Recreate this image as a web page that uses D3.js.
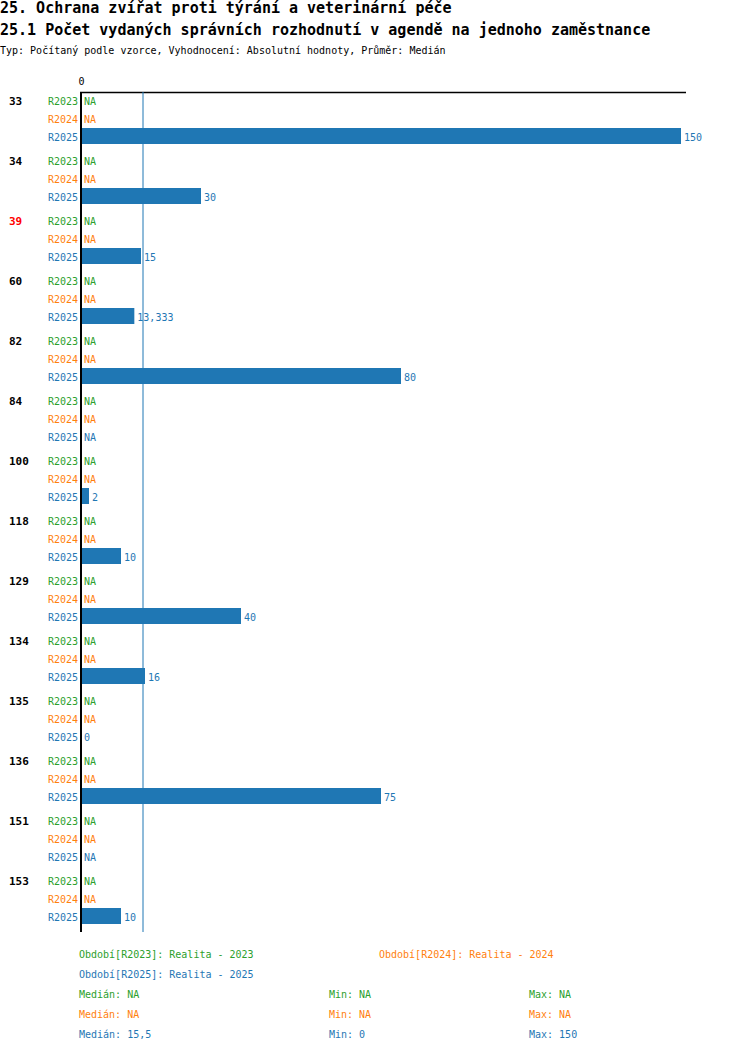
<!DOCTYPE html>
<html>
<head>
<meta charset="utf-8">
<script src="https://cdn.jsdelivr.net/npm/d3@7"></script>
<style>
  body { margin: 0; background: #fff; }
  svg { display: block; font-family: "DejaVu Sans Mono", "Liberation Mono", monospace; }
</style>
</head>
<body>
<svg id="chart" width="750" height="1052"></svg>
<script>
const groups = ["33", "34", "39", "60", "82", "84", "100", "118", "129", "134", "135", "136", "151", "153"];
const highlighted = ["39"];
const periods = ["R2023", "R2024", "R2025"];
const valuesR2023 = [null, null, null, null, null, null, null, null, null, null, null, null, null, null];
const valuesR2024 = [null, null, null, null, null, null, null, null, null, null, null, null, null, null];
const valuesR2025 = [150, 30, 15, 13.333, 80, null, 2, 10, 40, 16, 0, 75, null, 10];
const axisTicks = [0];
const median = 15.5;
const periodNames = ["Období[R2023]: Realita - 2023", "Období[R2024]: Realita - 2024", "Období[R2025]: Realita - 2025"];
const statsRows = [
  ["Medián: NA", "Min: NA", "Max: NA"],
  ["Medián: NA", "Min: NA", "Max: NA"],
  ["Medián: 15,5", "Min: 0", "Max: 150"]
];

const W = 750, H = 1052;
const m = { top: 92, left: 81, right: 69, bottom: 120 };
const svg = d3.select("#chart");
const color = d3.scaleOrdinal().domain(periods).range(["#2ca02c", "#ff7f0e", "#1f77b4"]);
const fmt = v => v == null ? "NA" : d3.format(",")(v).replace(/,/g, " ").replace(".", ",");

// Titles
svg.append("text").attr("x", 0).attr("y", 13)
  .style("font-size", "15px").style("font-weight", "bold")
  .text("25. Ochrana zvířat proti týrání a veterinární péče");
svg.append("text").attr("x", 0).attr("y", 35)
  .style("font-size", "15px").style("font-weight", "bold")
  .text("25.1 Počet vydaných správních rozhodnutí v agendě na jednoho zaměstnance");
svg.append("text").attr("x", 0).attr("y", 54)
  .style("font-size", "10px")
  .text("Typ: Počítaný podle vzorce, Vyhodnocení: Absolutní hodnoty, Průměr: Medián");

const x = d3.scaleLinear().domain([0, 150]).range([m.left, 681]);
const yGroup = d3.scaleBand().domain(groups).range([92, 932]);
const yRow = d3.scaleBand().domain(periods).range([-1, 53]);

const series = { R2023: valuesR2023, R2024: valuesR2024, R2025: valuesR2025 };
const rows = [];
groups.forEach((g, i) => periods.forEach(p => rows.push({ group: g, period: p, value: series[p][i] })));

// top axis
svg.append("g")
  .attr("transform", "translate(0,92)")
  .call(d3.axisTop(x).tickValues(axisTicks).tickSize(0).tickPadding(7))
  .call(ax => {
    ax.select(".domain").remove();
    ax.selectAll(".tick text").style("font-family", "DejaVu Sans Mono, monospace").style("font-size", "10px").attr("fill", "#000");
  });
svg.append("line").attr("x1", 80).attr("x2", 686).attr("y1", 92.5).attr("y2", 92.5)
  .attr("stroke", "#000").attr("stroke-width", 1.5);

// median line
svg.append("line").attr("x1", x(median)).attr("x2", x(median)).attr("y1", 92).attr("y2", 932)
  .attr("stroke", "#1f77b4").attr("stroke-width", 1);

// bars
const rowG = svg.append("g").selectAll("g").data(rows).join("g")
  .attr("transform", d => `translate(0,${yGroup(d.group) + yRow(d.period)})`);
rowG.filter(d => d.value != null && d.value > 0).append("rect")
  .attr("x", x(0)).attr("y", 1)
  .attr("width", d => x(d.value) - x(0)).attr("height", yRow.bandwidth() - 2)
  .attr("fill", d => color(d.period));
rowG.append("text")
  .attr("x", 78).attr("y", yRow.bandwidth() / 2 + 5)
  .attr("text-anchor", "end").style("font-size", "10px")
  .attr("fill", d => color(d.period)).text(d => d.period);
rowG.append("text")
  .attr("x", d => d.value ? x(d.value) + 3 : 84).attr("y", yRow.bandwidth() / 2 + 5)
  .style("font-size", "10px")
  .attr("fill", d => color(d.period)).text(d => fmt(d.value));

// group labels
svg.append("g").selectAll("text").data(groups).join("text")
  .attr("x", 9).attr("y", g => yGroup(g) + yRow("R2023") + yRow.bandwidth() / 2 + 5)
  .style("font-size", "11px").style("font-weight", "bold")
  .attr("fill", g => highlighted.includes(g) ? "#ff0000" : "#000")
  .text(g => g);

// zero axis
svg.append("line").attr("x1", 81).attr("x2", 81).attr("y1", 92).attr("y2", 932)
  .attr("stroke", "#000").attr("stroke-width", 2);

// legend
const lg = svg.append("g").style("font-size", "10px");
lg.append("text").attr("x", 79).attr("y", 958).attr("fill", color("R2023")).text(periodNames[0]);
lg.append("text").attr("x", 379).attr("y", 958).attr("fill", color("R2024")).text(periodNames[1]);
lg.append("text").attr("x", 79).attr("y", 978).attr("fill", color("R2025")).text(periodNames[2]);
const cols = [79, 329, 529];
statsRows.forEach((r, i) => r.forEach((t, j) => {
  lg.append("text").attr("x", cols[j]).attr("y", 998 + i * 20).attr("fill", color(periods[i])).text(t);
}));
</script>
</body>
</html>
